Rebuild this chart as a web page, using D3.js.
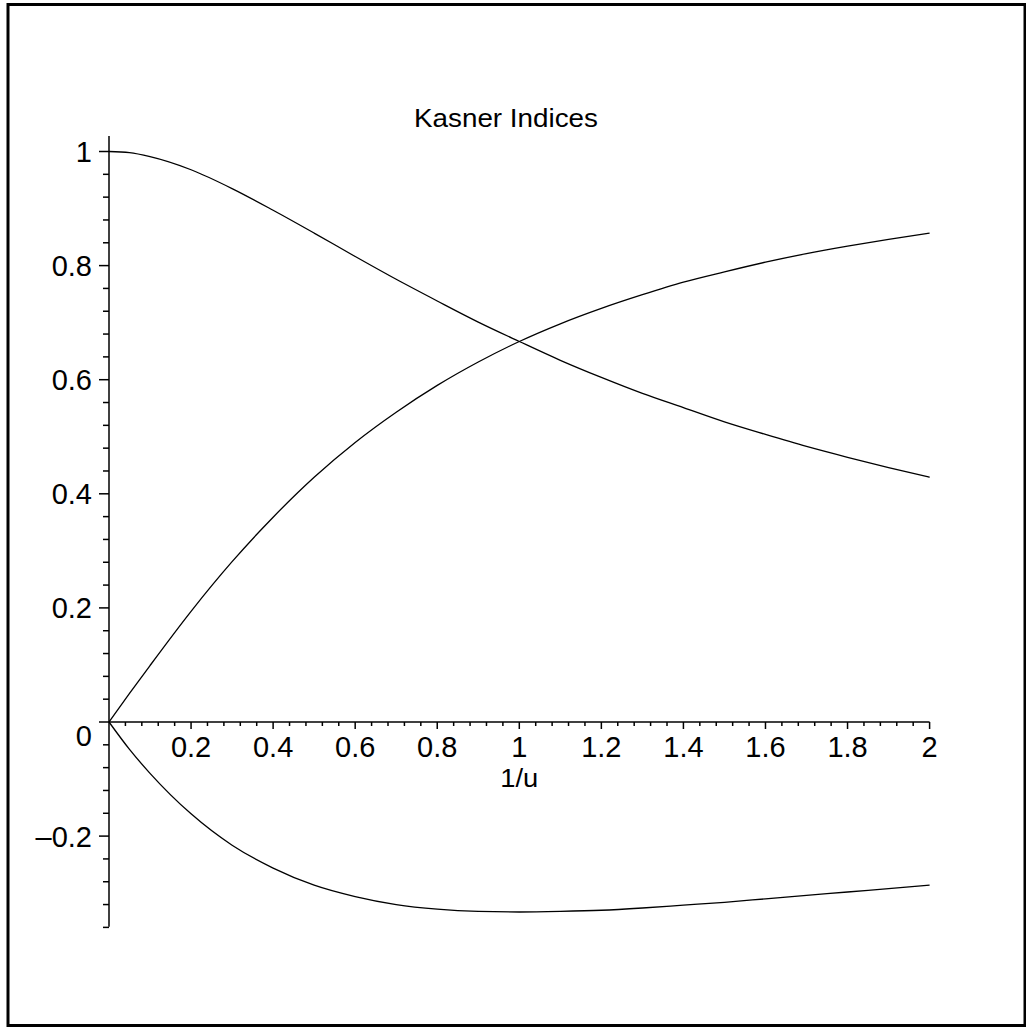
<!DOCTYPE html>
<html>
<head>
<meta charset="UTF-8">
<title>Kasner Indices</title>
<script src="https://d3js.org/d3.v7.min.js"></script>
<style>
    body, html {
        margin: 0;
        background: #fff;
    }
    text {
        font-family: "Liberation Sans", Arial, Helvetica, sans-serif;
        fill: #000;
    }
</style>
</head>
<body>
<div id="chart"></div>
<script>
    // values, x = 1/u
    const xs = [0, 0.05, 0.1, 0.2, 0.3, 0.4, 0.5, 0.6, 0.7, 0.8, 0.9, 1.0,
                1.1, 1.2, 1.3, 1.4, 1.5, 1.6, 1.7, 1.8, 1.9, 2.0];
    const p1 = [0, -0.048, -0.090, -0.161, -0.216, -0.256, -0.286, -0.306, -0.320, -0.328, -0.332, -0.333,
                -0.332, -0.330, -0.326, -0.321, -0.316, -0.310, -0.304, -0.298, -0.292, -0.286];
    const p2 = [0, 0.050, 0.099, 0.194, 0.281, 0.359, 0.429, 0.490, 0.543, 0.590, 0.631, 0.667,
                0.698, 0.725, 0.749, 0.771, 0.789, 0.806, 0.821, 0.834, 0.846, 0.857];
    const p3 = [1, 0.998, 0.991, 0.968, 0.935, 0.897, 0.857, 0.816, 0.776, 0.738, 0.701, 0.667,
                0.634, 0.604, 0.576, 0.551, 0.526, 0.504, 0.483, 0.464, 0.446, 0.429];

    const xTicks = [0.2, 0.4, 0.6, 0.8, 1, 1.2, 1.4, 1.6, 1.8, 2];
    const xTickLabels = ["0.2", "0.4", "0.6", "0.8", "1", "1.2", "1.4", "1.6", "1.8", "2"];
    const yTicks = [-0.2, 0, 0.2, 0.4, 0.6, 0.8, 1];
    const yTickLabels = ["\u20130.2", "0", "0.2", "0.4", "0.6", "0.8", "1"];

    const width = 1026, height = 1027;

    const svg = d3.select("#chart").append("svg")
        .attr("width", width)
        .attr("height", height);

    // frame
    svg.append("rect")
        .attr("x", 8).attr("y", 4.5)
        .attr("width", 1017).attr("height", 1021)
        .attr("fill", "none")
        .attr("stroke", "#000")
        .attr("stroke-width", 3);

    const x = d3.scaleLinear().domain([0, 2]).range([109, 929.6]);
    const y = d3.scaleLinear().domain([0, 1]).range([722, 151.5]);

    // minor ticks every 0.04
    const xMinor = d3.range(1, 51).map(i => i * 0.04).filter(v => Math.abs(v * 5 - Math.round(v * 5)) > 1e-6);
    const yMinor = d3.range(-9, 26).map(i => i * 0.04).filter(v => Math.abs(v * 5 - Math.round(v * 5)) > 1e-6);

    const ax = svg.append("g").attr("stroke", "#000").attr("stroke-width", 1.5);

    // x axis
    ax.append("line").attr("x1", x(0)).attr("x2", x(2)).attr("y1", y(0)).attr("y2", y(0));
    ax.selectAll(".xmaj").data(xTicks).enter().append("line")
        .attr("x1", d => x(d)).attr("x2", d => x(d))
        .attr("y1", y(0)).attr("y2", y(0) + 7);
    ax.selectAll(".xmin").data(xMinor).enter().append("line")
        .attr("x1", d => x(d)).attr("x2", d => x(d))
        .attr("y1", y(0)).attr("y2", y(0) + 4);

    // y axis
    ax.append("line").attr("x1", x(0)).attr("x2", x(0)).attr("y1", y(1.027)).attr("y2", y(-0.359));
    ax.selectAll(".ymaj").data(yTicks).enter().append("line")
        .attr("x1", x(0) - 10).attr("x2", x(0))
        .attr("y1", d => y(d)).attr("y2", d => y(d));
    ax.selectAll(".ymin").data(yMinor).enter().append("line")
        .attr("x1", x(0) - 6).attr("x2", x(0))
        .attr("y1", d => y(d)).attr("y2", d => y(d));

    // tick labels
    svg.selectAll(".xlab").data(xTicks).enter().append("text")
        .attr("x", d => x(d))
        .attr("y", y(0) + 35)
        .attr("text-anchor", "middle")
        .style("font-size", "29px")
        .text((d, i) => xTickLabels[i]);

    svg.selectAll(".ylab").data(yTicks).enter().append("text")
        .attr("x", x(0) - 17)
        .attr("y", d => d === 0 ? y(d) + 24 : y(d) + 10.5)
        .attr("text-anchor", "end")
        .style("font-size", "29px")
        .text((d, i) => yTickLabels[i]);

    // title and axis label
    svg.append("text")
        .attr("x", 506).attr("y", 127)
        .attr("text-anchor", "middle")
        .attr("textLength", 184)
        .attr("lengthAdjust", "spacingAndGlyphs")
        .style("font-size", "25px")
        .text("Kasner Indices");

    svg.append("text")
        .attr("x", x(1)).attr("y", 787)
        .attr("text-anchor", "middle")
        .attr("textLength", 38)
        .attr("lengthAdjust", "spacingAndGlyphs")
        .style("font-size", "26px")
        .text("1/u");

    // curves
    const line = d3.line()
        .x((d, i) => x(xs[i]))
        .y(d => y(d))
        .curve(d3.curveMonotoneX);

    [p1, p2, p3].forEach(s => {
        svg.append("path")
            .datum(s)
            .attr("d", line)
            .attr("fill", "none")
            .attr("stroke", "#000")
            .attr("stroke-width", 1.3);
    });
</script>
</body>
</html>
